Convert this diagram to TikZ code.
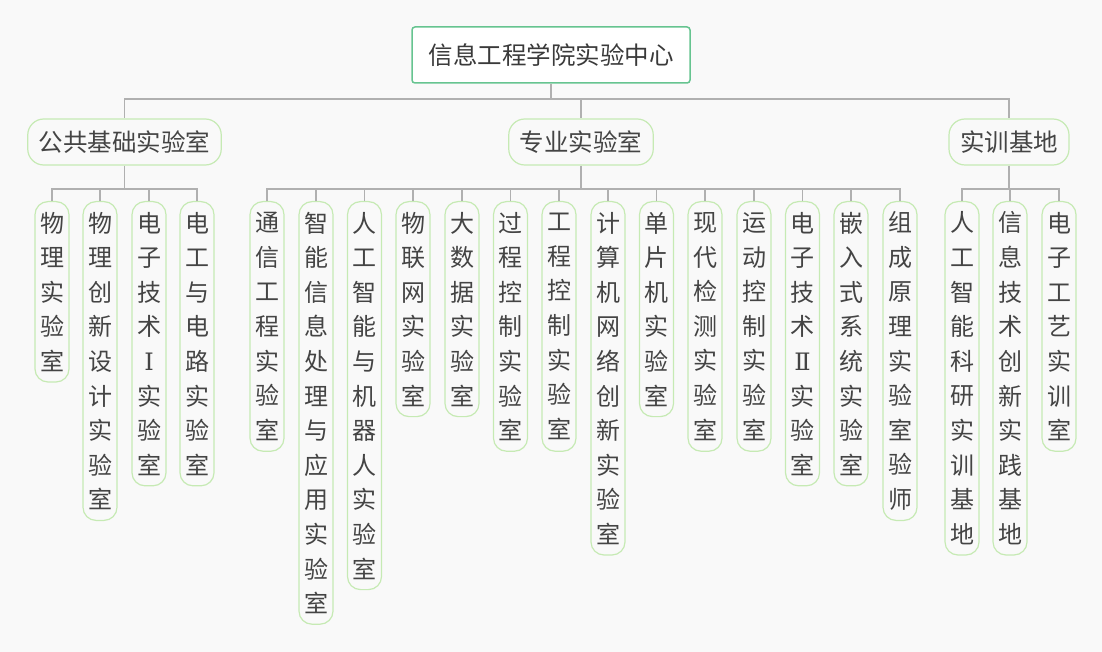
\documentclass[tikz,border=0pt]{standalone}
\usepackage{fontspec}
\setmainfont{Noto Sans CJK SC}
\newfontfamily\romfont{DejaVu Serif}
\definecolor{bg}{HTML}{F9F9F9}
\definecolor{rootgreen}{HTML}{66C490}
\definecolor{lightgreen}{HTML}{C6EAB4}
\definecolor{linkgray}{HTML}{B0B0B0}
\definecolor{txt}{HTML}{444444}
\newcommand{\romI}{{\romfont\fontsize{24}{34.6}\selectfont Ⅰ}}
\newcommand{\romII}{{\romfont\fontsize{24}{34.6}\selectfont Ⅱ}}
\tikzset{
  rootbox/.style={draw=rootgreen, fill=white, line width=1.5pt, rounded corners=3pt,
    minimum width=278pt, minimum height=56pt, text=txt!85!black,
    font=\fontsize{24.5}{28}\selectfont},
  groupbox/.style={draw=lightgreen, fill=bg, line width=1.2pt, rounded corners=16pt,
    minimum height=46pt, inner xsep=11pt, text=txt,
    font=\fontsize{24.5}{28}\selectfont},
  leaf/.style={draw=lightgreen, fill=bg, line width=1.2pt, rounded corners=13pt,
    anchor=north, minimum width=34pt, minimum height={(#1-1)*34.6pt+42pt},
    inner sep=0pt, align=center, text=txt,
    font=\fontsize{24}{34.6}\selectfont},
  link/.style={draw=linkgray, line width=1.2pt}
}
\begin{document}
\begin{tikzpicture}[x=1pt,y=-1pt]
  \fill[bg] (0,0) rectangle (1102,652);
  \useasboundingbox (0,0) rectangle (1102,652);

  % top levels
  \node[rootbox] (root) at (551,55) {信息工程学院实验中心};
  \node[groupbox] (pub) at (124.5,142) {公共基础实验室};
  \node[groupbox] (pro) at (581,142) {专业实验室};
  \node[groupbox] (tra) at (1009,142) {实训基地};

  \coordinate (rootbar) at (551,99);
  \coordinate (pubbar) at (124.5,189);
  \coordinate (probar) at (581,189);
  \coordinate (trabar) at (1009,189);

  % leaves of 公共基础实验室
  \node[leaf=5] (pub1) at (52,201) {物\\理\\实\\验\\室};
  \node[leaf=9] (pub2) at (100,201) {物\\理\\创\\新\\设\\计\\实\\验\\室};
  \node[leaf=8] (pub3) at (149,201) {电\\子\\技\\术\\\romI\\实\\验\\室};
  \node[leaf=8] (pub4) at (197,201) {电\\工\\与\\电\\路\\实\\验\\室};

  % leaves of 专业实验室
  \node[leaf=7] (pro1) at (267,201) {通\\信\\工\\程\\实\\验\\室};
  \node[leaf=12] (pro2) at (316,201) {智\\能\\信\\息\\处\\理\\与\\应\\用\\实\\验\\室};
  \node[leaf=11] (pro3) at (364.5,201) {人\\工\\智\\能\\与\\机\\器\\人\\实\\验\\室};
  \node[leaf=6] (pro4) at (413,201) {物\\联\\网\\实\\验\\室};
  \node[leaf=6] (pro5) at (462,201) {大\\数\\据\\实\\验\\室};
  \node[leaf=7] (pro6) at (510.5,201) {过\\程\\控\\制\\实\\验\\室};
  \node[leaf=7] (pro7) at (559,201) {工\\程\\控\\制\\实\\验\\室};
  \node[leaf=10] (pro8) at (608,201) {计\\算\\机\\网\\络\\创\\新\\实\\验\\室};
  \node[leaf=6] (pro9) at (656.5,201) {单\\片\\机\\实\\验\\室};
  \node[leaf=7] (pro10) at (705,201) {现\\代\\检\\测\\实\\验\\室};
  \node[leaf=7] (pro11) at (754,201) {运\\动\\控\\制\\实\\验\\室};
  \node[leaf=8] (pro12) at (802.5,201) {电\\子\\技\\术\\\romII\\实\\验\\室};
  \node[leaf=8] (pro13) at (851,201) {嵌\\入\\式\\系\\统\\实\\验\\室};
  \node[leaf=9] (pro14) at (900,201) {组\\成\\原\\理\\实\\验\\室\\验\\师};

  % leaves of 实训基地
  \node[leaf=10] (tra1) at (962,201) {人\\工\\智\\能\\科\\研\\实\\训\\基\\地};
  \node[leaf=10] (tra2) at (1010,201) {信\\息\\技\\术\\创\\新\\实\\践\\基\\地};
  \node[leaf=7] (tra3) at (1059,201) {电\\子\\工\\艺\\实\\训\\室};

  % connectors
  \draw[link] (root.south) -- (rootbar);
  \draw[link] (rootbar) -| (pub.north);
  \draw[link] (rootbar) -| (pro.north);
  \draw[link] (rootbar) -| (tra.north);
  \draw[link] (pub.south) -- (pubbar);
  \draw[link] (pro.south) -- (probar);
  \draw[link] (tra.south) -- (trabar);
  \foreach \i in {1,...,4} \draw[link] (pubbar) -| (pub\i.north);
  \foreach \i in {1,...,14} \draw[link] (probar) -| (pro\i.north);
  \foreach \i in {1,...,3} \draw[link] (trabar) -| (tra\i.north);
\end{tikzpicture}
\end{document}
